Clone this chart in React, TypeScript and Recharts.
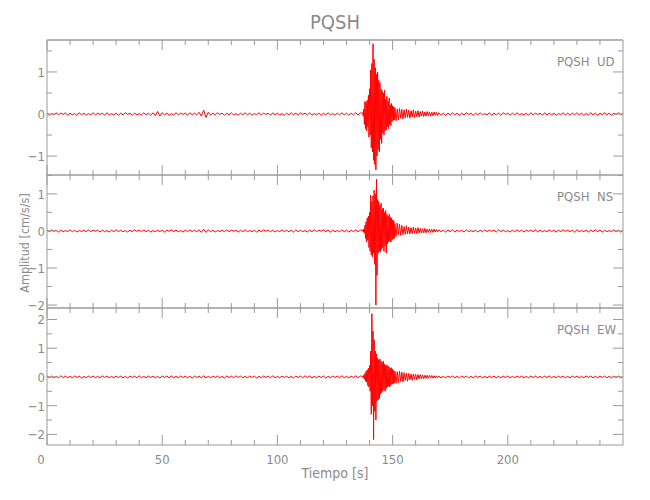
import { Line, LineChart, XAxis, YAxis } from 'recharts'

// sampling of the hand-read traces (seconds)
const quietStep = 1
const burstStart = 137
const burstStep = 0.25
const codaStart = 151
const codaStep = 0.5
const tailStart = 170

// UD component
const udQuiet = [
  0.02, -0.03, 0.01, -0.02, 0.03, -0.02, 0.02, -0.01, 0.03, -0.03,
  0.02, -0.02, 0.01, -0.03, 0.03, -0.02, 0.02, -0.03, 0.01, -0.02,
  0.03, -0.02, 0.02, -0.01, 0.02, -0.03, 0.03, -0.02, 0.01, -0.02,
  0.02, -0.03, 0.02, -0.02, 0.03, -0.01, 0.02, -0.03, 0.02, -0.02,
  0.01, -0.02, 0.03, -0.02, 0.02, -0.03, 0.03, -0.04, 0.06, -0.05,
  0.03, -0.02, 0.02, -0.03, 0.01, -0.02, 0.03, -0.02, 0.02, -0.01,
  0.02, -0.03, 0.03, -0.02, 0.02, -0.02, 0.04, -0.05, 0.09, -0.08,
  0.04, -0.03, 0.02, -0.02, 0.03, -0.01, 0.02, -0.03, 0.02, -0.02,
  0.03, -0.02, 0.01, -0.03, 0.02, -0.02, 0.03, -0.02, 0.02, -0.03,
  0.01, -0.02, 0.03, -0.02, 0.02, -0.01, 0.02, -0.03, 0.03, -0.02,
  0.02, -0.02, 0.01, -0.03, 0.02, -0.02, 0.03, -0.02, 0.02, -0.03,
  0.03, -0.01, 0.02, -0.02, 0.03, -0.03, 0.01, -0.02, 0.02, -0.03,
  0.02, -0.02, 0.03, -0.02, 0.01, -0.03, 0.02, -0.02, 0.03, -0.02,
  0.02, -0.03, 0.02, -0.02, 0.03, -0.02, 0.02
]
const udBurst = [
  0.03, -0.05, 0.12, -0.25, 0.3, -0.35, 0.28, -0.4, 0.33, -0.3,
  0.45, -0.55, 0.6, -0.5, 1.05, -0.8, 1.2, -0.9, 1.67, -1.1,
  1.3, -1.2, 1.1, -1.33, 0.95, -1.0, 1.0, -0.85, 0.8, -0.9,
  0.75, -0.6, 0.6, -0.7, 0.55, -0.45, 0.5, -0.5, 0.57, -0.4,
  0.35, -0.38, 0.42, -0.3, 0.3, -0.35, 0.38, -0.25, 0.22, -0.28,
  0.25, -0.18, 0.2, -0.15, 0.17, -0.14
]
const udCoda = [
  0.15, -0.16, 0.12, -0.14, 0.13, -0.1, 0.11, -0.12, 0.1, -0.09,
  0.12, -0.08, 0.09, -0.1, 0.08, -0.07, 0.1, -0.08, 0.07, -0.06,
  0.08, -0.07, 0.06, -0.05, 0.07, -0.06, 0.05, -0.05, 0.06, -0.04,
  0.05, -0.05, 0.04, -0.04, 0.05, -0.03, 0.04, -0.04
]
const udTail = [
  0.03, -0.03, 0.02, -0.03, 0.02, -0.02, 0.03, -0.02, 0.02, -0.03,
  0.02, -0.02, 0.03, -0.01, 0.02, -0.03, 0.02, -0.02, 0.03, -0.02,
  0.01, -0.02, 0.03, -0.03, 0.02, -0.02, 0.02, -0.03, 0.03, -0.01,
  0.02, -0.03, 0.02, -0.02, 0.03, -0.02, 0.01, -0.02, 0.02, -0.03,
  0.03, -0.02, 0.02, -0.01, 0.02, -0.03, 0.03, -0.02, 0.02, -0.02,
  0.02, -0.03, 0.01, -0.02, 0.03, -0.02, 0.02, -0.03, 0.02, -0.02,
  0.03, -0.02, 0.02, -0.03, 0.01, -0.02, 0.03, -0.02, 0.02, -0.03,
  0.02, -0.02, 0.03, -0.02, 0.02, -0.03, 0.02, -0.01, 0.03, -0.02,
  0.02
]

// NS component
const nsQuiet = [
  0.02, -0.02, 0.03, -0.01, 0.02, -0.03, 0.02, -0.02, 0.01, -0.02,
  0.03, -0.02, 0.02, -0.03, 0.01, -0.02, 0.02, -0.02, 0.03, -0.02,
  0.02, -0.01, 0.02, -0.03, 0.02, -0.02, 0.01, -0.03, 0.02, -0.02,
  0.03, -0.02, 0.02, -0.02, 0.01, -0.03, 0.02, -0.02, 0.03, -0.01,
  0.02, -0.02, 0.03, -0.02, 0.02, -0.03, 0.01, -0.02, 0.02, -0.02,
  0.02, -0.03, 0.02, -0.01, 0.03, -0.02, 0.02, -0.02, 0.01, -0.03,
  0.02, -0.02, 0.03, -0.02, 0.02, -0.02, 0.03, -0.04, 0.05, -0.04,
  0.03, -0.02, 0.02, -0.03, 0.01, -0.02, 0.02, -0.02, 0.03, -0.02,
  0.02, -0.01, 0.02, -0.03, 0.02, -0.02, 0.03, -0.02, 0.01, -0.02,
  0.02, -0.03, 0.02, -0.02, 0.03, -0.01, 0.02, -0.02, 0.02, -0.03,
  0.01, -0.02, 0.03, -0.02, 0.02, -0.02, 0.02, -0.03, 0.03, -0.02,
  0.02, -0.02, 0.01, -0.03, 0.02, -0.02, 0.03, -0.02, 0.02, -0.01,
  0.03, -0.02, 0.02, -0.03, 0.02, -0.02, 0.01, -0.02, 0.03, -0.02,
  0.02, -0.03, 0.02, -0.02, 0.03, -0.02, 0.02
]
const nsBurst = [
  0.02, -0.03, 0.05, -0.06, 0.15, -0.2, 0.25, -0.3, 0.35, -0.25,
  0.4, -0.45, 0.5, -0.55, 0.97, -0.65, 0.8, -0.7, 0.95, -0.6,
  1.1, -0.9, 1.0, -2.0, 1.4, -1.2, 0.85, -0.6, 0.8, -0.55,
  0.7, -0.57, 0.75, -0.5, 0.6, -0.45, 0.62, -0.55, 0.5, -0.4,
  0.55, -0.6, 0.45, -0.35, 0.4, -0.3, 0.45, -0.28, 0.38, -0.3,
  0.35, -0.25, 0.3, -0.22, 0.28, -0.2
]
const nsCoda = [
  0.2, -0.15, 0.21, -0.1, 0.18, -0.12, 0.15, -0.1, 0.12, -0.09,
  0.14, -0.08, 0.1, -0.08, 0.09, -0.07, 0.1, -0.06, 0.08, -0.07,
  0.09, -0.06, 0.07, -0.05, 0.06, -0.05, 0.07, -0.05, 0.05, -0.04,
  0.05, -0.04, 0.04, -0.04, 0.05, -0.03, 0.04, -0.03
]
const nsTail = [
  0.03, -0.02, 0.02, -0.03, 0.02, -0.02, 0.03, -0.03, 0.02, -0.02,
  0.02, -0.03, 0.03, -0.02, 0.01, -0.02, 0.02, -0.03, 0.02, -0.02,
  0.03, -0.02, 0.02, -0.01, 0.02, -0.03, 0.03, -0.02, 0.02, -0.02,
  0.01, -0.03, 0.02, -0.02, 0.03, -0.02, 0.02, -0.03, 0.02, -0.01,
  0.02, -0.02, 0.03, -0.03, 0.02, -0.02, 0.01, -0.02, 0.03, -0.02,
  0.02, -0.03, 0.02, -0.02, 0.03, -0.01, 0.02, -0.02, 0.02, -0.03,
  0.03, -0.02, 0.01, -0.02, 0.02, -0.03, 0.02, -0.02, 0.03, -0.02,
  0.02, -0.03, 0.02, -0.02, 0.01, -0.02, 0.03, -0.02, 0.02, -0.03,
  0.02
]

// EW component
const ewQuiet = [
  0.03, -0.02, 0.03, -0.03, 0.02, -0.03, 0.04, -0.02, 0.03, -0.03,
  0.02, -0.03, 0.03, -0.02, 0.03, -0.04, 0.02, -0.03, 0.03, -0.02,
  0.03, -0.03, 0.02, -0.03, 0.04, -0.02, 0.03, -0.03, 0.02, -0.03,
  0.03, -0.02, 0.03, -0.03, 0.02, -0.04, 0.03, -0.02, 0.03, -0.03,
  0.04, -0.03, 0.02, -0.03, 0.03, -0.02, 0.03, -0.03, 0.02, -0.04,
  0.03, -0.02, 0.03, -0.03, 0.04, -0.03, 0.02, -0.03, 0.03, -0.02,
  0.03, -0.03, 0.02, -0.04, 0.03, -0.02, 0.03, -0.03, 0.04, -0.03,
  0.02, -0.03, 0.03, -0.02, 0.03, -0.03, 0.02, -0.04, 0.03, -0.02,
  0.03, -0.03, 0.04, -0.02, 0.03, -0.03, 0.02, -0.03, 0.03, -0.02,
  0.03, -0.04, 0.02, -0.03, 0.03, -0.02, 0.03, -0.03, 0.04, -0.03,
  0.02, -0.03, 0.03, -0.02, 0.03, -0.03, 0.02, -0.04, 0.03, -0.02,
  0.03, -0.03, 0.04, -0.02, 0.03, -0.03, 0.02, -0.03, 0.03, -0.02,
  0.03, -0.04, 0.02, -0.03, 0.03, -0.02, 0.03, -0.03, 0.04, -0.03,
  0.02, -0.03, 0.03, -0.02, 0.04, -0.03, 0.03
]
const ewBurst = [
  0.02, -0.03, 0.06, -0.08, 0.12, -0.15, 0.2, -0.18, 0.25, -0.3,
  0.3, -0.35, 0.4, -0.5, 0.9, -1.3, 2.2, -1.0, 1.6, -2.18,
  1.3, -1.2, 0.9, -1.5, 0.8, -0.84, 0.66, -0.8, 0.6, -0.75,
  0.62, -0.6, 0.55, -0.55, 0.5, -0.5, 0.55, -0.45, 0.45, -0.5,
  0.4, -0.4, 0.42, -0.35, 0.38, -0.32, 0.35, -0.35, 0.3, -0.3,
  0.32, -0.25, 0.28, -0.25, 0.22, -0.2
]
const ewCoda = [
  0.2, -0.22, 0.18, -0.2, 0.2, -0.15, 0.17, -0.18, 0.15, -0.12,
  0.13, -0.15, 0.12, -0.1, 0.1, -0.12, 0.1, -0.08, 0.09, -0.1,
  0.08, -0.07, 0.08, -0.06, 0.07, -0.06, 0.06, -0.05, 0.06, -0.05,
  0.05, -0.04, 0.05, -0.04, 0.04, -0.04, 0.04, -0.03
]
const ewTail = [
  0.03, -0.03, 0.02, -0.03, 0.03, -0.02, 0.03, -0.03, 0.02, -0.03,
  0.03, -0.02, 0.03, -0.03, 0.02, -0.03, 0.03, -0.02, 0.03, -0.03,
  0.02, -0.03, 0.03, -0.02, 0.03, -0.03, 0.02, -0.03, 0.03, -0.02,
  0.03, -0.03, 0.02, -0.03, 0.03, -0.02, 0.03, -0.03, 0.02, -0.03,
  0.03, -0.02, 0.03, -0.03, 0.02, -0.03, 0.03, -0.02, 0.03, -0.03,
  0.02, -0.03, 0.03, -0.02, 0.03, -0.03, 0.02, -0.03, 0.03, -0.02,
  0.03, -0.03, 0.02, -0.03, 0.03, -0.02, 0.03, -0.03, 0.02, -0.03,
  0.03, -0.02, 0.03, -0.03, 0.02, -0.03, 0.03, -0.02, 0.03, -0.03,
  0.02
]

const xTicks = [0, 10, 20, 30, 40, 50, 60, 70, 80, 90, 100, 110, 120, 130, 140, 150, 160, 170, 180, 190, 200, 210, 220, 230, 240]
const xLabels = [0, 50, 100, 150, 200]

const FONT = "'Liberation Sans Narrow', 'DejaVu Sans Condensed', sans-serif"
const AXIS = '#9a9a9a'
const TEXT = '#8a8a8a'

type Pt = { t: number; v: number }

function build(quiet: number[], burst: number[], coda: number[], tail: number[]): Pt[] {
  const pts: Pt[] = []
  quiet.forEach((v, i) => pts.push({ t: i * quietStep, v }))
  burst.forEach((v, i) => pts.push({ t: burstStart + i * burstStep, v }))
  coda.forEach((v, i) => pts.push({ t: codaStart + i * codaStep, v }))
  tail.forEach((v, i) => pts.push({ t: tailStart + i * quietStep, v }))
  return pts
}

const panels = [
  { comp: 'UD', top: 40, bottom: 175, domain: [-1.45, 1.76], ticks: [-1, -0.5, 0, 0.5, 1, 1.5], data: build(udQuiet, udBurst, udCoda, udTail) },
  { comp: 'NS', top: 175, bottom: 308, domain: [-2.08, 1.51], ticks: [-2, -1.5, -1, -0.5, 0, 0.5, 1, 1.5], data: build(nsQuiet, nsBurst, nsCoda, nsTail) },
  { comp: 'EW', top: 308, bottom: 445, domain: [-2.37, 2.4], ticks: [-2, -1.5, -1, -0.5, 0, 0.5, 1, 1.5, 2], data: build(ewQuiet, ewBurst, ewCoda, ewTail) }
]

const LeftTick = (props: any) => {
  const { x, y, payload } = props
  const major = Number.isInteger(payload.value)
  return (
    <g>
      <line x1={x} y1={y} x2={x + (major ? 10 : 5)} y2={y} stroke={AXIS} />
      {major && (
        <text x={x - 2} y={y + 5} textAnchor="end" fontSize={13} fill={TEXT} fontFamily={FONT}>
          {payload.value < 0 ? '\u2212' + Math.abs(payload.value) : payload.value}
        </text>
      )}
    </g>
  )
}

const RightTick = (props: any) => {
  const { x, y, payload } = props
  const major = Number.isInteger(payload.value)
  return <line x1={x} y1={y} x2={x - (major ? 10 : 5)} y2={y} stroke={AXIS} />
}

const TopTick = (props: any) => {
  const { x, y, payload } = props
  const major = payload.value % 50 === 0
  return <line x1={x} y1={y} x2={x} y2={y + (major ? 10 : 5)} stroke={AXIS} />
}

const makeBottomTick = (labelled: boolean) => (props: any) => {
  const { x, y, payload } = props
  const major = payload.value % 50 === 0
  return (
    <g>
      <line x1={x} y1={y} x2={x} y2={y - (major ? 10 : 5)} stroke={AXIS} />
      {labelled && xLabels.includes(payload.value) && (
        <text x={payload.value === 0 ? x - 6 : x} y={y + 19} textAnchor="middle" fontSize={13} fill={TEXT} fontFamily={FONT}>
          {payload.value}
        </text>
      )}
    </g>
  )
}

function Panel({ p, last }: { p: (typeof panels)[number]; last: boolean }) {
  const extra = last ? 30 : 4
  const h = p.bottom - p.top + 4 + extra
  return (
    <div style={{ position: 'absolute', left: 0, top: p.top - 4 }}>
      <LineChart width={650} height={h} data={p.data} margin={{ top: 3, right: 26, bottom: extra - 1, left: 0 }}>
        <XAxis xAxisId="b" dataKey="t" type="number" domain={[0, 250]} ticks={xTicks} interval={0}
          height={1} tickSize={0} tickMargin={0} stroke={AXIS} tick={makeBottomTick(last)} />
        <XAxis xAxisId="t" orientation="top" dataKey="t" type="number" domain={[0, 250]} ticks={xTicks} interval={0}
          height={1} tickSize={0} tickMargin={0} stroke={p.top === 40 ? '#6a6a6a' : AXIS} tick={TopTick} />
        <YAxis yAxisId="l" type="number" domain={p.domain} ticks={p.ticks} interval={0} width={47}
          tickSize={0} tickMargin={0} stroke={AXIS} tick={LeftTick} allowDataOverflow />
        <YAxis yAxisId="r" orientation="right" type="number" domain={p.domain} ticks={p.ticks} interval={0} width={1}
          tickSize={0} tickMargin={0} stroke={AXIS} tick={RightTick} allowDataOverflow />
        <Line xAxisId="b" yAxisId="l" dataKey="v" type="linear" stroke="#ff0000" strokeWidth={1}
          dot={false} isAnimationActive={false} />
      </LineChart>
    </div>
  )
}

export default function App() {
  return (
    <div style={{ position: 'absolute', left: 0, top: 0, width: 650, height: 500, background: '#ffffff' }}>
      {panels.map((p, i) => (
        <Panel key={p.comp} p={p} last={i === panels.length - 1} />
      ))}
      <svg width={650} height={500} style={{ position: 'absolute', left: 0, top: 0, pointerEvents: 'none' }}>
        <text x={335} y={29} textAnchor="middle" fontSize={20} fill={TEXT} fontFamily={FONT}>PQSH</text>
        {panels.map((p) => (
          <g key={p.comp}>
            <text x={557} y={p.top + 26} fontSize={13} fill={TEXT} fontFamily={FONT}>PQSH</text>
            <text x={597} y={p.top + 26} fontSize={13} fill={TEXT} fontFamily={FONT}>{p.comp}</text>
          </g>
        ))}
        <text x={29} y={243} transform="rotate(-90 29 243)" textAnchor="middle" fontSize={12.5} fill={TEXT} fontFamily={FONT}>
          Amplitud [cm/s/s]
        </text>
        <text x={335} y={478} textAnchor="middle" fontSize={14} fill={TEXT} fontFamily={FONT}>Tiempo [s]</text>
      </svg>
    </div>
  )
}
